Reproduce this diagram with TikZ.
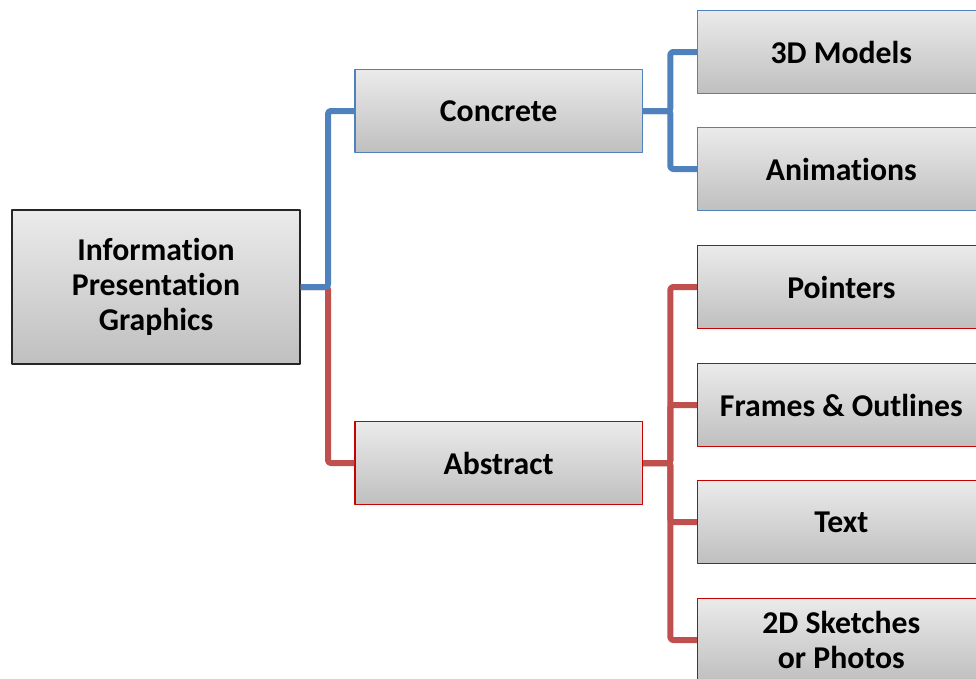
\documentclass[tikz,border=0pt]{standalone}
\usepackage{fontspec}
\setmainfont{Carlito}[Ligatures=NoCommon]
\usepackage{xcolor}
\usetikzlibrary{calc,positioning}

\definecolor{branchblue}{RGB}{79,129,189}
\definecolor{branchred}{RGB}{192,80,77}
\definecolor{boxred}{RGB}{200,0,0}

\begin{document}
\begin{tikzpicture}[x=0.75pt,y=-0.75pt,node distance=257pt,line join=round]
  \tikzstyle{every node}=[font=\fontsize{23.8pt}{26.25pt}\selectfont\bfseries,align=center]
  \tikzstyle{box}=[rectangle,draw,line width=1.1pt,top color=white!92!black,bottom color=white!75!black,minimum width=215.5pt,minimum height=62.25pt,inner sep=0pt]
  \tikzstyle{bluebox}=[box,draw=branchblue]
  \tikzstyle{redbox}=[box,draw=boxred]
  \tikzstyle{blueline}=[draw=branchblue,line width=4.5pt,rounded corners=2pt]
  \tikzstyle{redline}=[draw=branchred,line width=4.5pt,rounded corners=2pt]
  \useasboundingbox (0,0) rectangle (976,679);
  \node[box,draw=black!85,minimum width=216pt,minimum height=115.5pt] (root) at (156,287) {Information\\Presentation\\Graphics};
  \node[bluebox] (concrete) [right of=root,yshift=132pt] {Concrete};
  \node[redbox] (abstract) [right of=root,yshift=-132pt] {Abstract};
  \node[bluebox] (models) [right of=concrete,yshift=44.25pt] {3D Models};
  \node[bluebox] (anim) [right of=concrete,yshift=-43.5pt] {Animations};
  \node[redbox] (pointers) [right of=abstract,yshift=132pt] {Pointers};
  \node[redbox] (frames) [right of=abstract,yshift=43.5pt] {Frames \& Outlines};
  \node[redbox] (text) [right of=abstract,yshift=-44.25pt] {Text};
  \node[redbox] (sketch) [right of=abstract,yshift=-132.75pt] {2D Sketches\\or Photos};
  \draw[redline] (root.east) -- ++(20.5pt,0) |- (abstract.west);
  \draw[blueline] (root.east) -- ++(20.5pt,0) |- (concrete.west);
  \foreach \leaf in {pointers,frames,text,sketch}
    \draw[redline] (abstract.east) -- ++(20.5pt,0) |- (\leaf.west);
  \foreach \leaf in {models,anim}
    \draw[blueline] (concrete.east) -- ++(20.5pt,0) |- (\leaf.west);
\end{tikzpicture}
\end{document}
